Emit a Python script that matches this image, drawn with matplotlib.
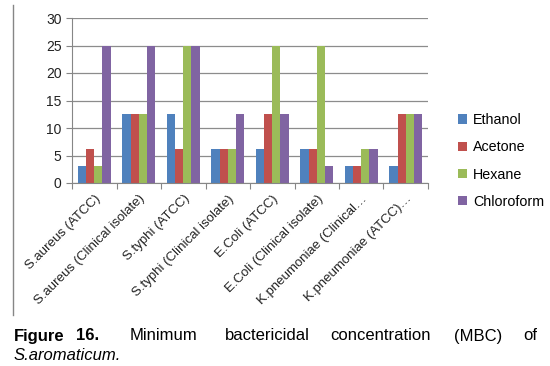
import numpy as np
import matplotlib.pyplot as plt
from matplotlib.lines import Line2D

# dados
categorias = ['S.aureus (ATCC)', 'S.aureus (Clinical isolate)', 'S.typhi (ATCC)',
              'S.typhi (Clinical isolate)', 'E.Coli (ATCC)', 'E.Coli (Clinical isolate)',
              'K.pneumoniae (Clinical\u2026', 'K.pneumoniae (ATCC)\u2026']
ethanol = [3.125, 12.5, 12.5, 6.25, 6.25, 6.25, 3.125, 3.125]
acetone = [6.25, 12.5, 6.25, 6.25, 12.5, 6.25, 3.125, 12.5]
hexane = [3.125, 12.5, 25, 6.25, 25, 25, 6.25, 12.5]
chloroform = [25, 25, 25, 12.5, 12.5, 3.125, 6.25, 12.5]
series = ['Ethanol', 'Acetone', 'Hexane', 'Chloroform']
cores = ['#4F81BD', '#C0504D', '#9BBB59', '#8064A2']

W, H = 550, 366
fig = plt.figure(figsize=(W / 100, H / 100), dpi=100)
plt.rcParams['font.family'] = ['Liberation Sans', 'DejaVu Sans']

ax = fig.add_axes([72 / W, (H - 183) / H, (428 - 72) / W, (183 - 18) / H])
x = np.arange(len(categorias))
larg = 0.185
for i, (vals, cor) in enumerate(zip([ethanol, acetone, hexane, chloroform], cores)):
    ax.bar(x + (i - 1.5) * larg, vals, larg, color=cor, label=series[i], zorder=2)

ax.set_xlim(-0.5, len(categorias) - 0.5)
ax.set_ylim(0, 30)
ax.set_yticks(range(0, 31, 5))
ax.grid(axis='y', color='#8c8c8c', linewidth=0.9, zorder=0)
for s in ['top', 'right']:
    ax.spines[s].set_visible(False)
for s in ['left', 'bottom']:
    ax.spines[s].set_color('#868686')
ax.tick_params(axis='y', colors='#868686', labelcolor='#222222', labelsize=10, length=4)
ax.set_xticks(np.arange(-0.5, len(categorias), 1), minor=False)
ax.set_xticklabels([])
ax.set_xticks(x, minor=True)
ax.set_xticklabels(categorias, minor=True, rotation=45, ha='right', rotation_mode='anchor',
                   fontsize=9.5, color='#222222')
ax.tick_params(axis='x', which='major', colors='#868686', length=4)
ax.tick_params(axis='x', which='minor', length=0, pad=7)

ax.legend(loc='center left', bbox_to_anchor=(451 / W, (H - 161) / H), bbox_transform=fig.transFigure,
          frameon=False, fontsize=10.3, handlelength=0.65, handleheight=0.65, handletextpad=0.4,
          labelspacing=0.92, borderpad=0)

# linha vertical da borda esquerda
fig.add_artist(Line2D([13 / W, 13 / W], [(H - 5) / H, (H - 315) / H], color='#868686', linewidth=1))

# legenda da figura (texto justificado)
y1 = 1 - 336 / H
fs = 12
fig.text(14 / W, y1, 'Figure', fontsize=fs, fontweight='bold', va='center')
fig.text(76 / W, y1, '16.', fontsize=fs, fontweight='bold', va='center')
for palavra, px in [('Minimum', 130), ('bactericidal', 225), ('concentration', 330), ('(MBC)', 454)]:
    fig.text(px / W, y1, palavra, fontsize=fs, va='center')
fig.text(537 / W, y1, 'of', fontsize=fs, va='center', ha='right')
fig.text(14 / W, 1 - 355 / H, 'S.aromaticum.', fontsize=fs, style='italic', va='center')

fig.savefig('out.png', dpi=100)
